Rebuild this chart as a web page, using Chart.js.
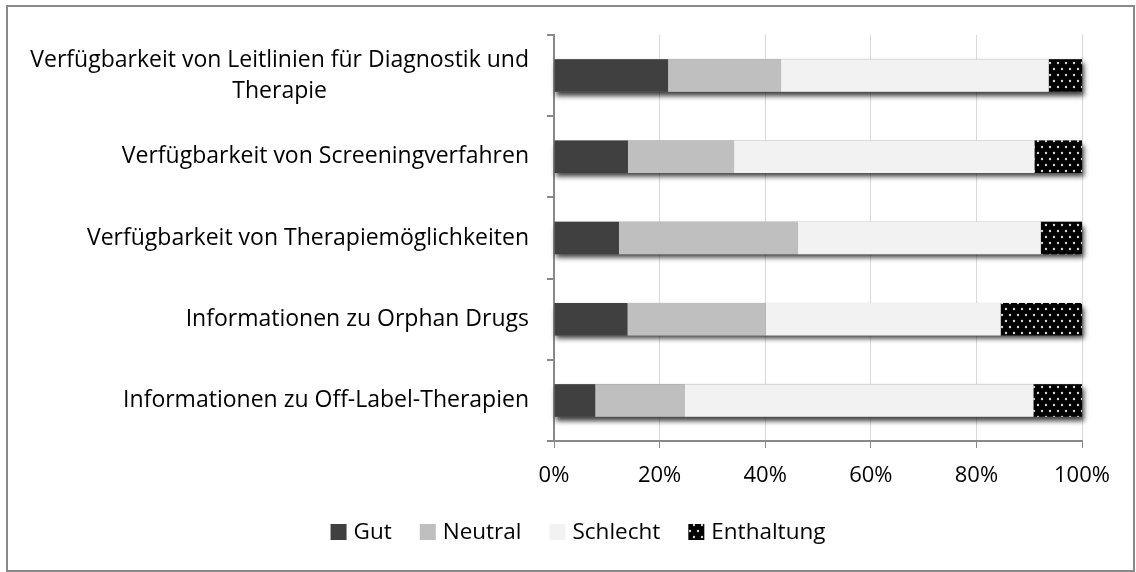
<!DOCTYPE html>
<html>
<head>
<meta charset="utf-8">
<script src="https://cdn.jsdelivr.net/npm/chart.js@4"></script>
<style>
  html, body { margin: 0; padding: 0; background: #fff; }
  #wrap { width: 1136px; height: 572px; }
</style>
</head>
<body>
<div id="wrap"><canvas id="chart" width="1136" height="572"></canvas></div>
<script>
// Daten (Anteile in %)
const categories = [
  ["Verfügbarkeit von Leitlinien für Diagnostik und", "Therapie"],
  "Verfügbarkeit von Screeningverfahren",
  "Verfügbarkeit von Therapiemöglichkeiten",
  "Informationen zu Orphan Drugs",
  "Informationen zu Off-Label-Therapien"
];
const seriesNames = ["Gut", "Neutral", "Schlecht", "Enthaltung"];
const gut        = [21.6, 14.0, 12.3, 13.9, 7.8];
const neutral    = [21.4, 20.1, 33.9, 26.2, 16.9];
const schlecht   = [50.7, 56.9, 46.0, 44.5, 66.1];
const enthaltung = [6.3, 9.0, 7.8, 15.4, 9.2];
const xTicks = [0, 20, 40, 60, 80, 100];

const FONT_FAMILY = "'Open Sans', 'DejaVu Sans', sans-serif";
const LABEL_FONT = "23px " + FONT_FAMILY;
const LEGEND_FONT = "22.5px " + FONT_FAMILY;
const AXIS_GREY = "#898989";

/* Punktmuster für "Enthaltung" */
function dotPattern() {
  const c = document.createElement("canvas");
  c.width = 8; c.height = 12;
  const g = c.getContext("2d");
  g.fillStyle = "#000";
  g.fillRect(0, 0, 8, 12);
  g.fillStyle = "#d8d8d8";
  [[2, 3], [6, 9]].forEach(([px, py]) => {
    g.beginPath();
    g.arc(px, py, 1.2, 0, Math.PI * 2);
    g.fill();
  });
  return document.getElementById("chart").getContext("2d").createPattern(c, "repeat");
}

/* Schatten unter den Balken */
const barShadow = {
  id: "barShadow",
  beforeDatasetsDraw(chart) {
    const ctx = chart.ctx;
    const x = chart.scales.x;
    const first = chart.getDatasetMeta(0);
    const last = chart.getDatasetMeta(chart.data.datasets.length - 1);
    ctx.save();
    ctx.shadowColor = "rgba(0,0,0,0.75)";
    ctx.shadowBlur = 5;
    ctx.shadowOffsetX = 2;
    ctx.shadowOffsetY = 4;
    ctx.fillStyle = "#808080";
    first.data.forEach((el, i) => {
      const left = x.getPixelForValue(0);
      const right = last.data[i].x;
      ctx.fillRect(left, el.y - el.height / 2, right - left, el.height);
    });
    ctx.restore();
  }
};

/* Beschriftung der Kategorien (mehrzeilig zentriert, Block rechtsbündig) */
const yLabels = {
  id: "yLabels",
  afterDraw(chart) {
    const ctx = chart.ctx;
    const y = chart.scales.y;
    ctx.save();
    ctx.font = LABEL_FONT;
    ctx.fillStyle = "#000";
    ctx.textAlign = "center";
    ctx.textBaseline = "middle";
    categories.forEach((lab, i) => {
      const lines = [].concat(lab);
      const w = Math.max(...lines.map(l => ctx.measureText(l).width));
      const cx = 529 - w / 2;
      const cy = y.getPixelForValue(i);
      lines.forEach((l, j) => {
        ctx.fillText(l, cx, cy + (j - (lines.length - 1) / 2) * 31);
      });
    });
    ctx.restore();
  }
};

/* Legende und Rahmen */
const legendAndFrame = {
  id: "legendAndFrame",
  afterDraw(chart) {
    const ctx = chart.ctx;
    ctx.save();
    ctx.font = LEGEND_FONT;
    const items = chart.data.datasets.map(ds => ({
      label: ds.label, color: ds.backgroundColor, w: ctx.measureText(ds.label).width
    }));
    const box = 16, gap = 7, space = 28;
    const total = items.reduce((s, it) => s + box + gap + it.w, 0) + space * (items.length - 1);
    let x = 578 - total / 2;
    ctx.textBaseline = "middle";
    ctx.textAlign = "left";
    items.forEach(it => {
      ctx.fillStyle = it.color;
      ctx.fillRect(x, 524, box, box);
      ctx.fillStyle = "#000";
      ctx.fillText(it.label, x + box + gap, 533);
      x += box + gap + it.w + space;
    });
    ctx.strokeStyle = AXIS_GREY;
    ctx.lineWidth = 2;
    ctx.strokeRect(7, 6, 1127, 565);
    ctx.restore();
  }
};

const pattern = dotPattern();
const colors = ["#404040", "#bfbfbf", "#f2f2f2", pattern];
const values = [gut, neutral, schlecht, enthaltung];

new Chart(document.getElementById("chart"), {
  type: "bar",
  data: {
    labels: categories,
    datasets: seriesNames.map((name, k) => ({
      label: name,
      data: values[k],
      backgroundColor: colors[k],
      borderWidth: 0,
      barPercentage: 0.4,
      categoryPercentage: 1
    }))
  },
  options: {
    indexAxis: "y",
    responsive: false,
    animation: false,
    layout: { padding: { top: 35, right: 54, bottom: 0, left: 0 } },
    plugins: {
      legend: { display: false },
      tooltip: { enabled: false }
    },
    scales: {
      x: {
        stacked: true,
        min: 0,
        max: 100,
        afterBuildTicks(s) { s.ticks = xTicks.map(v => ({ value: v })); },
        afterFit(s) { s.height = 131; },
        ticks: {
          color: "#000",
          font: { family: FONT_FAMILY, size: 22 },
          padding: 15,
          callback: v => v + "%"
        },
        grid: { color: "#d9d9d9", lineWidth: 1, tickColor: AXIS_GREY, tickLength: 7 },
        border: { color: AXIS_GREY, width: 2 }
      },
      y: {
        stacked: true,
        afterFit(s) { s.width = 554; },
        ticks: { display: false },
        grid: {
          offset: true,
          drawOnChartArea: false,
          drawTicks: true,
          tickLength: 7,
          tickColor: AXIS_GREY,
          lineWidth: 2
        },
        border: { color: AXIS_GREY, width: 2 }
      }
    }
  },
  plugins: [barShadow, yLabels, legendAndFrame]
});
</script>
</body>
</html>
